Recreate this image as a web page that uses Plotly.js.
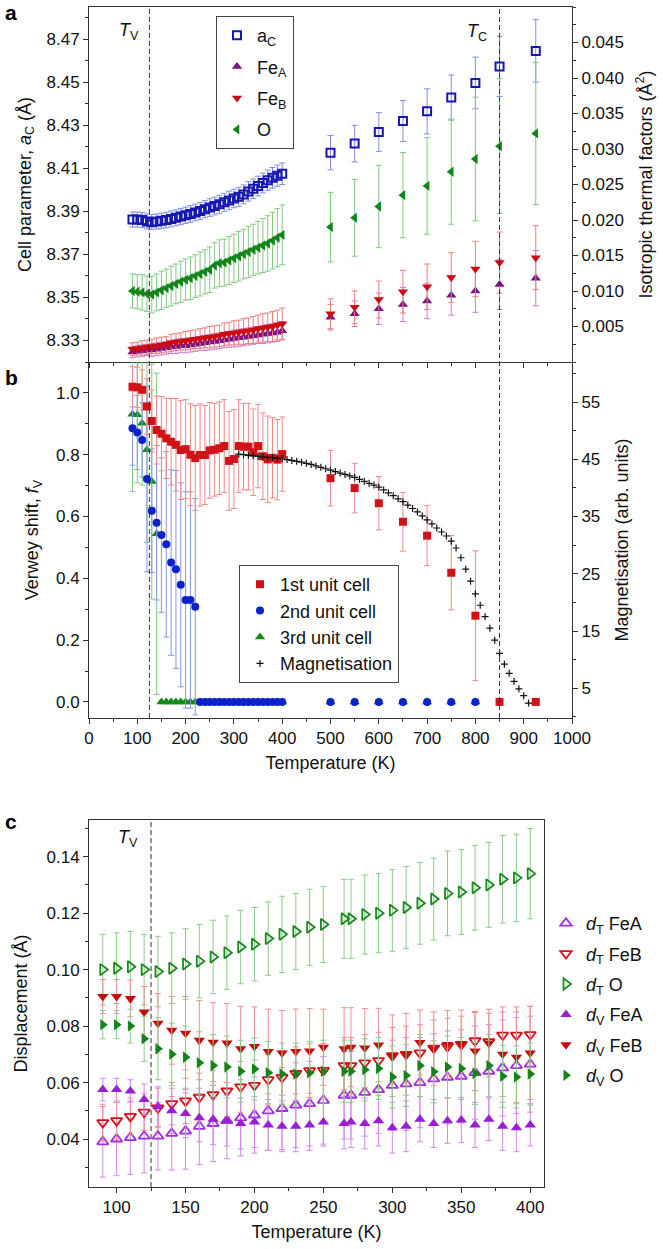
<!DOCTYPE html>
<html>
<head>
<meta charset="utf-8">
<script src="https://cdn.plot.ly/plotly-3.0.1.min.js"></script>
<style>html,body{margin:0;padding:0;background:#fff;}#chart{width:663px;height:1249px;}</style>
</head>
<body>
<div id="chart"></div>
<script>
// ---------- Panel a ----------
const T_lo = [90,100,110,120,130,140,150,160,170,180,190,200,210,220,230,240,250,260,270,280,290,300,310,320,330,340,350,360,370,380,390,400];
const T_hi = [500,550,600,650,700,750,800,850,925];

const aC_lo = [8.3862,8.3862,8.3860,8.3853,8.3850,8.3853,8.3856,8.3860,8.3865,8.3870,8.3876,8.3882,8.3888,8.3895,8.3902,8.3910,8.3918,8.3925,8.3933,8.3942,8.3951,8.3960,8.3968,8.3979,8.3993,8.4005,8.4018,8.4032,8.4045,8.4056,8.4066,8.4075];
const aC_hi = [8.4173,8.4215,8.4269,8.4320,8.4365,8.4429,8.4497,8.4574,8.4646];
const aC_err_lo = [0.0035,0.0035,0.0035,0.0035,0.0035,0.0035,0.0036,0.0036,0.0037,0.0037,0.0038,0.0038,0.0039,0.0039,0.0040,0.0040,0.0041,0.0041,0.0042,0.0042,0.0043,0.0043,0.0044,0.0044,0.0045,0.0045,0.0046,0.0046,0.0047,0.0048,0.0049,0.0050];
const aC_err_hi = [0.0080,0.0085,0.0090,0.0095,0.0105,0.0105,0.0120,0.0140,0.0145];

const FeA_lo = [0.0014,0.0015,0.0016,0.0017,0.0017,0.0018,0.0019,0.0020,0.0021,0.0022,0.0023,0.0023,0.0024,0.0025,0.0026,0.0027,0.0028,0.0029,0.0030,0.0031,0.0032,0.0033,0.0034,0.0035,0.0036,0.0037,0.0038,0.0039,0.0040,0.0041,0.0042,0.0044];
const FeA_hi = [0.0063,0.0068,0.0075,0.0081,0.0086,0.0094,0.0100,0.0109,0.0118];
const FeA_err_lo = [0.0008,0.0008,0.0008,0.0008,0.0009,0.0009,0.0009,0.0009,0.0009,0.0010,0.0010,0.0010,0.0010,0.0010,0.0010,0.0011,0.0011,0.0011,0.0011,0.0011,0.0011,0.0012,0.0012,0.0012,0.0012,0.0012,0.0012,0.0013,0.0013,0.0013,0.0013,0.0013];
const FeA_err_hi = [0.0018,0.0018,0.0022,0.0024,0.0025,0.0028,0.0030,0.0035,0.0039];

const FeB_lo = [0.0018,0.0019,0.0020,0.0021,0.0022,0.0023,0.0024,0.0025,0.0027,0.0028,0.0029,0.0030,0.0031,0.0032,0.0033,0.0034,0.0035,0.0036,0.0037,0.0039,0.0040,0.0041,0.0042,0.0043,0.0044,0.0045,0.0047,0.0048,0.0049,0.0050,0.0052,0.0054];
const FeB_hi = [0.0068,0.0077,0.0088,0.0099,0.0106,0.0119,0.0131,0.0140,0.0147];
const FeB_err_lo = [0.0009,0.0009,0.0010,0.0010,0.0010,0.0011,0.0011,0.0011,0.0012,0.0012,0.0012,0.0013,0.0013,0.0013,0.0014,0.0014,0.0015,0.0015,0.0015,0.0016,0.0016,0.0017,0.0017,0.0018,0.0018,0.0019,0.0019,0.0020,0.0020,0.0021,0.0021,0.0022];
const FeB_err_hi = [0.0021,0.0023,0.0026,0.0030,0.0032,0.0035,0.0039,0.0043,0.0045];

const O_lo = [0.0100,0.0099,0.0098,0.0096,0.0095,0.0098,0.0101,0.0104,0.0107,0.0110,0.0113,0.0116,0.0118,0.0121,0.0124,0.0127,0.0130,0.0136,0.0139,0.0140,0.0143,0.0146,0.0149,0.0152,0.0155,0.0158,0.0161,0.0164,0.0167,0.0171,0.0175,0.0179];
const O_hi = [0.0190,0.0203,0.0219,0.0235,0.0248,0.0268,0.0286,0.0304,0.0322];
const O_err_lo = [0.0024,0.0024,0.0025,0.0025,0.0026,0.0026,0.0027,0.0027,0.0028,0.0028,0.0029,0.0029,0.0030,0.0030,0.0031,0.0031,0.0032,0.0032,0.0033,0.0033,0.0034,0.0034,0.0035,0.0035,0.0036,0.0036,0.0037,0.0038,0.0039,0.0040,0.0041,0.0042];
const O_err_hi = [0.0049,0.0054,0.0058,0.0060,0.0068,0.0074,0.0087,0.0095,0.0100];

// ---------- Panel b ----------
const T_b_hi = [500,550,600,650,700,750,800];
const T_b_end = [850,925];
const cell1_lo = [1.020,1.018,1.010,0.956,0.909,0.880,0.868,0.853,0.842,0.832,0.815,0.818,0.800,0.789,0.799,0.799,0.814,0.816,0.821,0.828,0.780,0.786,0.828,0.826,0.826,0.808,0.828,0.795,0.785,0.790,0.784,0.802];
const cell1_hi = [0.724,0.692,0.643,0.583,0.538,0.418,0.279,0,0];
const cell1_err_lo = [0.065,0.065,0.065,0.090,0.100,0.110,0.120,0.130,0.140,0.150,0.160,0.160,0.165,0.170,0.165,0.160,0.155,0.150,0.150,0.150,0.160,0.160,0.150,0.140,0.140,0.140,0.135,0.140,0.140,0.130,0.130,0.120];
const cell1_err_hi = [0.090,0.080,0.086,0.095,0.097,0.120,0.210,0,0];

const cell2_lo = [0.886,0.872,0.848,0.721,0.619,0.580,0.540,0.510,0.451,0.429,0.379,0.330,0.330,0.308,0,0,0,0,0,0,0,0,0,0,0,0,0,0,0,0,0,0];
const cell2_hi = [0,0,0,0,0,0,0];
const cell2_err_lo = [0.12,0.12,0.12,0.30,0.20,0.25,0.25,0.30,0.30,0.32,0.33,0.35,0.35,0.35,0,0,0,0,0,0,0,0,0,0,0,0,0,0,0,0,0,0];

const cell3_lo = [0.931,0.929,0.902,0.816,0.713,0.544,0,0,0,0,0,0,0,0,0,0,0,0,0,0,0,0,0,0,0,0,0,0,0,0,0,0];
const cell3_hi = [0,0,0,0,0,0,0];
const cell3_err_lo = [0.25,0.22,0.20,0.30,0.38,0.52,0,0,0,0,0,0,0,0,0,0,0,0,0,0,0,0,0,0,0,0,0,0,0,0,0,0];

const magT = [310,320,330,340,350,360,370,380,390,400,410,420,430,440,450,460,470,480,490,500,510,520,530,540,550,560,570,580,590,600,610,620,630,640,650,660,670,680,690,700,710,720,730,740,750,760,770,780,790,800,810,820,830,840,850,860,870,880,890,900,910];
const magV = [45.9,45.8,45.7,45.6,45.5,45.4,45.35,45.3,45.2,45.1,44.95,44.8,44.65,44.5,44.3,44.1,43.85,43.6,43.35,43.1,42.85,42.6,42.35,42.1,41.85,41.5,41.15,40.8,40.5,40.15,39.65,39.15,38.65,38.1,37.6,37.0,36.4,35.8,35.1,34.4,33.7,33.0,32.3,31.6,30.7,29.5,27.8,25.8,23.7,21.5,19.5,17.5,15.5,13.4,11.1,9.2,7.6,6.2,4.9,3.7,2.4];

// ---------- Panel c ----------
const T_c = [90,100,110,120,130,140,150,160,170,180,190,200,210,220,230,240,250,265,270,280,290,300,310,320,330,340,350,360,370,380,390,400];
const dT_FeA = [0.0390,0.0400,0.0405,0.0410,0.0410,0.0420,0.0428,0.0445,0.0455,0.0465,0.0475,0.0485,0.0500,0.0508,0.0520,0.0525,0.0537,0.0555,0.0555,0.0565,0.0575,0.0590,0.0595,0.0600,0.0613,0.0618,0.0622,0.0635,0.0640,0.0652,0.0660,0.0665];
const dT_FeA_err = [0.0125,0.0130,0.0130,0.0130,0.0120,0.0130,0.0135,0.0135,0.0135,0.0135,0.0135,0.0135,0.0140,0.0145,0.0150,0.0150,0.0155,0.0155,0.0155,0.0155,0.0155,0.0160,0.0165,0.0160,0.0160,0.0165,0.0165,0.0165,0.0165,0.0170,0.0170,0.0170];
const dT_FeB = [0.0458,0.0465,0.0480,0.0495,0.0510,0.0525,0.0535,0.0548,0.0557,0.0570,0.0585,0.0590,0.0610,0.0618,0.0632,0.0642,0.0643,0.0660,0.0660,0.0670,0.0678,0.0695,0.0700,0.0705,0.0722,0.0728,0.0735,0.0748,0.0745,0.0768,0.0768,0.0770];
const dT_FeB_err = [0.0065,0.0065,0.0065,0.0065,0.0070,0.0075,0.0080,0.0085,0.0085,0.0090,0.0090,0.0090,0.0090,0.0095,0.0095,0.0095,0.0095,0.0100,0.0100,0.0100,0.0100,0.0100,0.0100,0.0100,0.0100,0.0100,0.0100,0.0100,0.0100,0.0100,0.0100,0.0100];
const dT_O = [0.1000,0.1005,0.1010,0.1000,0.0993,0.1005,0.1020,0.1030,0.1045,0.1060,0.1080,0.1090,0.1110,0.1125,0.1135,0.1150,0.1160,0.1180,0.1180,0.1195,0.1200,0.1210,0.1220,0.1235,0.1250,0.1270,0.1275,0.1290,0.1300,0.1320,0.1325,0.1340];
const dT_O_err = [0.0125,0.0125,0.0125,0.0125,0.0125,0.0125,0.0125,0.0130,0.0130,0.0130,0.0130,0.0130,0.0130,0.0135,0.0135,0.0135,0.0135,0.0140,0.0140,0.0140,0.0140,0.0145,0.0145,0.0145,0.0145,0.0150,0.0150,0.0150,0.0150,0.0155,0.0155,0.0160];
const dV_FeA = [0.0575,0.0575,0.0570,0.0540,0.0515,0.0500,0.0490,0.0475,0.0470,0.0465,0.0455,0.0460,0.0450,0.0445,0.0445,0.0450,0.0460,0.0455,0.0460,0.0455,0.0465,0.0440,0.0445,0.0470,0.0455,0.0465,0.0467,0.0450,0.0470,0.0445,0.0440,0.0450];
const dV_FeA_err = [0.0040,0.0040,0.0040,0.0055,0.0070,0.0080,0.0085,0.0085,0.0090,0.0090,0.0090,0.0090,0.0090,0.0090,0.0090,0.0090,0.0085,0.0090,0.0090,0.0090,0.0090,0.0090,0.0090,0.0080,0.0085,0.0080,0.0080,0.0080,0.0075,0.0085,0.0085,0.0075];
const dV_FeB = [0.0905,0.0905,0.0898,0.0850,0.0810,0.0785,0.0775,0.0750,0.0743,0.0740,0.0720,0.0728,0.0710,0.0705,0.0710,0.0712,0.0725,0.0720,0.0725,0.0722,0.0733,0.0695,0.0700,0.0742,0.0720,0.0735,0.0737,0.0712,0.0740,0.0700,0.0690,0.0705];
const dV_FeB_err = [0.0060,0.0060,0.0065,0.0090,0.0105,0.0120,0.0130,0.0140,0.0140,0.0140,0.0150,0.0140,0.0150,0.0150,0.0150,0.0150,0.0135,0.0145,0.0140,0.0140,0.0130,0.0145,0.0145,0.0115,0.0130,0.0120,0.0120,0.0140,0.0120,0.0150,0.0160,0.0165];
const dV_O = [0.0805,0.0805,0.0800,0.0755,0.0720,0.0700,0.0690,0.0670,0.0660,0.0655,0.0640,0.0648,0.0635,0.0630,0.0630,0.0635,0.0640,0.0640,0.0640,0.0645,0.0650,0.0620,0.0625,0.0660,0.0638,0.0655,0.0650,0.0632,0.0660,0.0622,0.0620,0.0630];
const dV_O_err = [0.0050,0.0050,0.0060,0.0080,0.0110,0.0110,0.0110,0.0110,0.0110,0.0110,0.0110,0.0110,0.0110,0.0110,0.0110,0.0110,0.0110,0.0110,0.0110,0.0110,0.0110,0.0110,0.0110,0.0110,0.0110,0.0110,0.0110,0.0110,0.0110,0.0110,0.0110,0.0110];

const T_V = 125, T_C = 850;

// ---------- geometry ----------
const W = 663, H = 1249;
const px = v => v / W;
const py = v => 1 - v / H;
const XL = px(89), XR = px(572), XRc = px(544);
const aTop = py(7), abMid = py(362), bBot = py(718), cTop = py(820), cBot = py(1187);

const FONT = 'Liberation Sans, Arial, Helvetica, sans-serif';
const AX = '#333';

const Ta = T_lo.concat(T_hi);
const Tb = T_lo.concat(T_b_hi);
const Tb1 = Tb.concat(T_b_end);

function ebar(arr, color) {
  return {type: 'data', array: arr, color: color, thickness: 1, width: 3, visible: true};
}

const traces = [];
// Panel a
traces.push({x: Ta, y: aC_lo.concat(aC_hi), xaxis: 'x', yaxis: 'y', mode: 'markers', name: 'a<sub>C</sub>',
  marker: {symbol: 'square-open', size: 8, color: '#1616b0', line: {width: 2, color: '#1616b0'}},
  error_y: ebar(aC_err_lo.concat(aC_err_hi), '#7f8fe0'), legend: 'legend', legendgroup: 'a1', legendrank: 1});
traces.push({x: Ta, y: FeA_lo.concat(FeA_hi), xaxis: 'x', yaxis: 'y2', mode: 'markers', name: 'Fe<sub>A</sub>',
  marker: {symbol: 'triangle-up', size: 9, color: '#7d1283'},
  error_y: ebar(FeA_err_lo.concat(FeA_err_hi), '#c77fd0'), legend: 'legend', legendgroup: 'a2', legendrank: 2});
traces.push({x: Ta, y: FeB_lo.concat(FeB_hi), xaxis: 'x', yaxis: 'y2', mode: 'markers', name: 'Fe<sub>B</sub>',
  marker: {symbol: 'triangle-down', size: 9, color: '#cc0a14'},
  error_y: ebar(FeB_err_lo.concat(FeB_err_hi), '#ee8080'), legend: 'legend', legendgroup: 'a3', legendrank: 3});
traces.push({x: Ta, y: O_lo.concat(O_hi), xaxis: 'x', yaxis: 'y2', mode: 'markers', name: 'O',
  marker: {symbol: 'triangle-left', size: 9, color: '#12841a'},
  error_y: ebar(O_err_lo.concat(O_err_hi), '#84c884'), legend: 'legend', legendgroup: 'a4', legendrank: 4});

// Panel b
traces.push({x: Tb, y: cell3_lo.concat(cell3_hi), xaxis: 'x2', yaxis: 'y3', mode: 'markers', name: '3rd unit cell',
  marker: {symbol: 'triangle-up', size: 9, color: '#128a1a'},
  error_y: ebar(cell3_err_lo.concat(cell3_hi), '#84c884'), legend: 'legend2', legendgroup: 'b3', legendrank: 3});
traces.push({x: Tb, y: cell2_lo.concat(cell2_hi), xaxis: 'x2', yaxis: 'y3', mode: 'markers', name: '2nd unit cell',
  marker: {symbol: 'circle', size: 8, color: '#0a22c8'},
  error_y: ebar(cell2_err_lo.concat(cell2_hi), '#8797e4'), legend: 'legend2', legendgroup: 'b2', legendrank: 2});
traces.push({x: Tb1, y: cell1_lo.concat(cell1_hi), xaxis: 'x2', yaxis: 'y3', mode: 'markers', name: '1st unit cell',
  marker: {symbol: 'square', size: 8, color: '#d01318'},
  error_y: ebar(cell1_err_lo.concat(cell1_err_hi), '#ee8a8a'), legend: 'legend2', legendgroup: 'b1', legendrank: 1});
traces.push({x: magT, y: magV, xaxis: 'x2', yaxis: 'y4', mode: 'markers', name: 'Magnetisation',
  marker: {symbol: 'cross-thin-open', size: 5, color: '#111', line: {width: 1.2, color: '#111'}},
  legend: 'legend2', legendgroup: 'b4', legendrank: 4});

// Panel c
const cset = [
  ['<i>d</i><sub>T</sub> FeA', dT_FeA, dT_FeA_err, 'triangle-up-open', '#a030dc', '#d08ae8'],
  ['<i>d</i><sub>T</sub> FeB', dT_FeB, dT_FeB_err, 'triangle-down-open', '#d0141a', '#ee9090'],
  ['<i>d</i><sub>T</sub> O', dT_O, dT_O_err, 'triangle-right-open', '#1a8a1e', '#8ccc8c'],
  ['<i>d</i><sub>V</sub> FeA', dV_FeA, dV_FeA_err, 'triangle-up', '#9a1ed4', '#d08ae8'],
  ['<i>d</i><sub>V</sub> FeB', dV_FeB, dV_FeB_err, 'triangle-down', '#c40c0c', '#ee9090'],
  ['<i>d</i><sub>V</sub> O', dV_O, dV_O_err, 'triangle-right', '#15821a', '#8ccc8c']
];
cset.forEach((s, i) => {
  const open = s[3].indexOf('open') >= 0;
  traces.push({x: T_c, y: s[1], xaxis: 'x3', yaxis: 'y5', mode: 'markers', name: s[0],
    marker: {symbol: s[3], size: 10, color: s[4], line: {width: open ? 1.8 : 0, color: s[4]}},
    error_y: ebar(s[2], s[5]), legend: 'legend3', legendgroup: 'c' + i, legendrank: i + 1});
});

const tickFont = {family: FONT, size: 17, color: '#111'};
const titleFont = {family: FONT, size: 18, color: '#111'};
const baseAx = {showline: true, linecolor: AX, linewidth: 1, ticks: 'outside', ticklen: 5, tickcolor: AX,
  showgrid: false, zeroline: false, tickfont: tickFont};

const layout = {
  width: W, height: H, margin: {l: 0, r: 0, t: 0, b: 0},
  paper_bgcolor: '#fff', plot_bgcolor: '#fff',
  font: {family: FONT, size: 17, color: '#111'},
  xaxis: Object.assign({}, baseAx, {domain: [XL, XR], anchor: 'y', range: [0, 1000], dtick: 100, tick0: 0,
    showticklabels: false, mirror: true, minor: {dtick: 50, ticklen: 3, ticks: 'outside', tickcolor: AX}}),
  yaxis: Object.assign({}, baseAx, {domain: [abMid, aTop], anchor: 'x', range: [8.32, 8.485], tick0: 8.33, dtick: 0.02,
    tickformat: '.2f', minor: {dtick: 0.01, tick0: 8.32, ticklen: 3, ticks: 'outside', tickcolor: AX},
    title: {text: 'Cell parameter, <i>a</i><sub>C</sub> (Å)', font: titleFont, standoff: 10}}),
  yaxis2: Object.assign({}, baseAx, {overlaying: 'y', side: 'right', anchor: 'x', range: [0, 0.05],
    tickmode: 'array', tickvals: [0.005,0.010,0.015,0.020,0.025,0.030,0.035,0.040,0.045], tickformat: '.3f',
    minor: {tickmode: 'linear', tick0: 0, dtick: 0.0025, ticklen: 3, ticks: 'outside', tickcolor: AX},
    title: {text: 'Isotropic thermal factors (Å<sup>2</sup>)', font: titleFont, standoff: 16}}),
  xaxis2: Object.assign({}, baseAx, {domain: [XL, XR], anchor: 'y3', range: [0, 1000], dtick: 100, tick0: 0,
    minor: {dtick: 50, ticklen: 3, ticks: 'outside', tickcolor: AX},
    title: {text: 'Temperature (K)', font: titleFont, standoff: 8}}),
  yaxis3: Object.assign({}, baseAx, {domain: [bBot, abMid], anchor: 'x2', range: [-0.052, 1.1], tick0: 0, dtick: 0.2,
    tickformat: '.1f', minor: {dtick: 0.1, tick0: 0, ticklen: 3, ticks: 'outside', tickcolor: AX},
    title: {text: 'Verwey shift, <i>f</i><sub>V</sub>', font: titleFont, standoff: 12}}),
  yaxis4: Object.assign({}, baseAx, {overlaying: 'y3', side: 'right', anchor: 'x2', range: [-0.2, 62], tick0: 5, dtick: 10,
    minor: {dtick: 5, tick0: 0, ticklen: 3, ticks: 'outside', tickcolor: AX},
    title: {text: 'Magnetisation (arb. units)', font: titleFont, standoff: 16}}),
  xaxis3: Object.assign({}, baseAx, {domain: [XL, XRc], anchor: 'y5', range: [80, 410], dtick: 50, tick0: 0, mirror: true,
    minor: {dtick: 25, tick0: 0, ticklen: 3, ticks: 'outside', tickcolor: AX},
    title: {text: 'Temperature (K)', font: titleFont, standoff: 8}}),
  yaxis5: Object.assign({}, baseAx, {domain: [cBot, cTop], anchor: 'x3', range: [0.023, 0.153], tick0: 0, dtick: 0.02,
    tickformat: '.2f', mirror: true, minor: {dtick: 0.01, tick0: 0, ticklen: 3, ticks: 'outside', tickcolor: AX},
    title: {text: 'Displacement (Å)', font: titleFont, standoff: 14}}),
  legend: {x: px(216), y: py(16), xanchor: 'left', yanchor: 'top', bordercolor: '#444', borderwidth: 1,
    bgcolor: 'rgba(255,255,255,0)', font: {family: FONT, size: 18, color: '#111'}, tracegroupgap: 5, itemwidth: 30,
    traceorder: 'grouped'},
  legend2: {x: px(239), y: py(565), xanchor: 'left', yanchor: 'top', bordercolor: '#444', borderwidth: 1,
    bgcolor: 'rgba(255,255,255,0)', font: {family: FONT, size: 18, color: '#111'}, tracegroupgap: 0, itemwidth: 30,
    traceorder: 'grouped'},
  legend3: {x: px(546), y: py(905), xanchor: 'left', yanchor: 'top', borderwidth: 0,
    bgcolor: 'rgba(255,255,255,0)', font: {family: FONT, size: 18, color: '#111'}, tracegroupgap: 4, itemwidth: 30,
    traceorder: 'grouped'},
  shapes: [
    {type: 'line', xref: 'x', yref: 'paper', x0: T_V, x1: T_V, y0: bBot, y1: aTop, line: {color: '#333', width: 1, dash: '5px,3px'}},
    {type: 'line', xref: 'x', yref: 'paper', x0: T_C, x1: T_C, y0: bBot, y1: aTop, line: {color: '#333', width: 1, dash: '5px,3px'}},
    {type: 'line', xref: 'x3', yref: 'paper', x0: T_V, x1: T_V, y0: cBot, y1: cTop, line: {color: '#333', width: 1, dash: '5px,3px'}}
  ],
  annotations: [
    {xref: 'paper', yref: 'paper', x: px(3), y: py(12), text: '<b>a</b>', showarrow: false, xanchor: 'left', yanchor: 'middle', font: {family: FONT, size: 21, color: '#000'}},
    {xref: 'paper', yref: 'paper', x: px(3), y: py(378), text: '<b>b</b>', showarrow: false, xanchor: 'left', yanchor: 'middle', font: {family: FONT, size: 21, color: '#000'}},
    {xref: 'paper', yref: 'paper', x: px(3), y: py(822), text: '<b>c</b>', showarrow: false, xanchor: 'left', yanchor: 'middle', font: {family: FONT, size: 21, color: '#000'}},
    {xref: 'x', yref: 'paper', x: 83, y: py(31), text: '<i>T</i><sub>V</sub>', showarrow: false, xanchor: 'center', yanchor: 'middle', font: {family: FONT, size: 18, color: '#111'}},
    {xref: 'x', yref: 'paper', x: 803, y: py(32), text: '<i>T</i><sub>C</sub>', showarrow: false, xanchor: 'center', yanchor: 'middle', font: {family: FONT, size: 18, color: '#111'}},
    {xref: 'x3', yref: 'paper', x: 108, y: py(838), text: '<i>T</i><sub>V</sub>', showarrow: false, xanchor: 'center', yanchor: 'middle', font: {family: FONT, size: 18, color: '#111'}}
  ]
};

Plotly.newPlot('chart', traces, layout, {displayModeBar: false, staticPlot: true});
</script>
</body>
</html>
